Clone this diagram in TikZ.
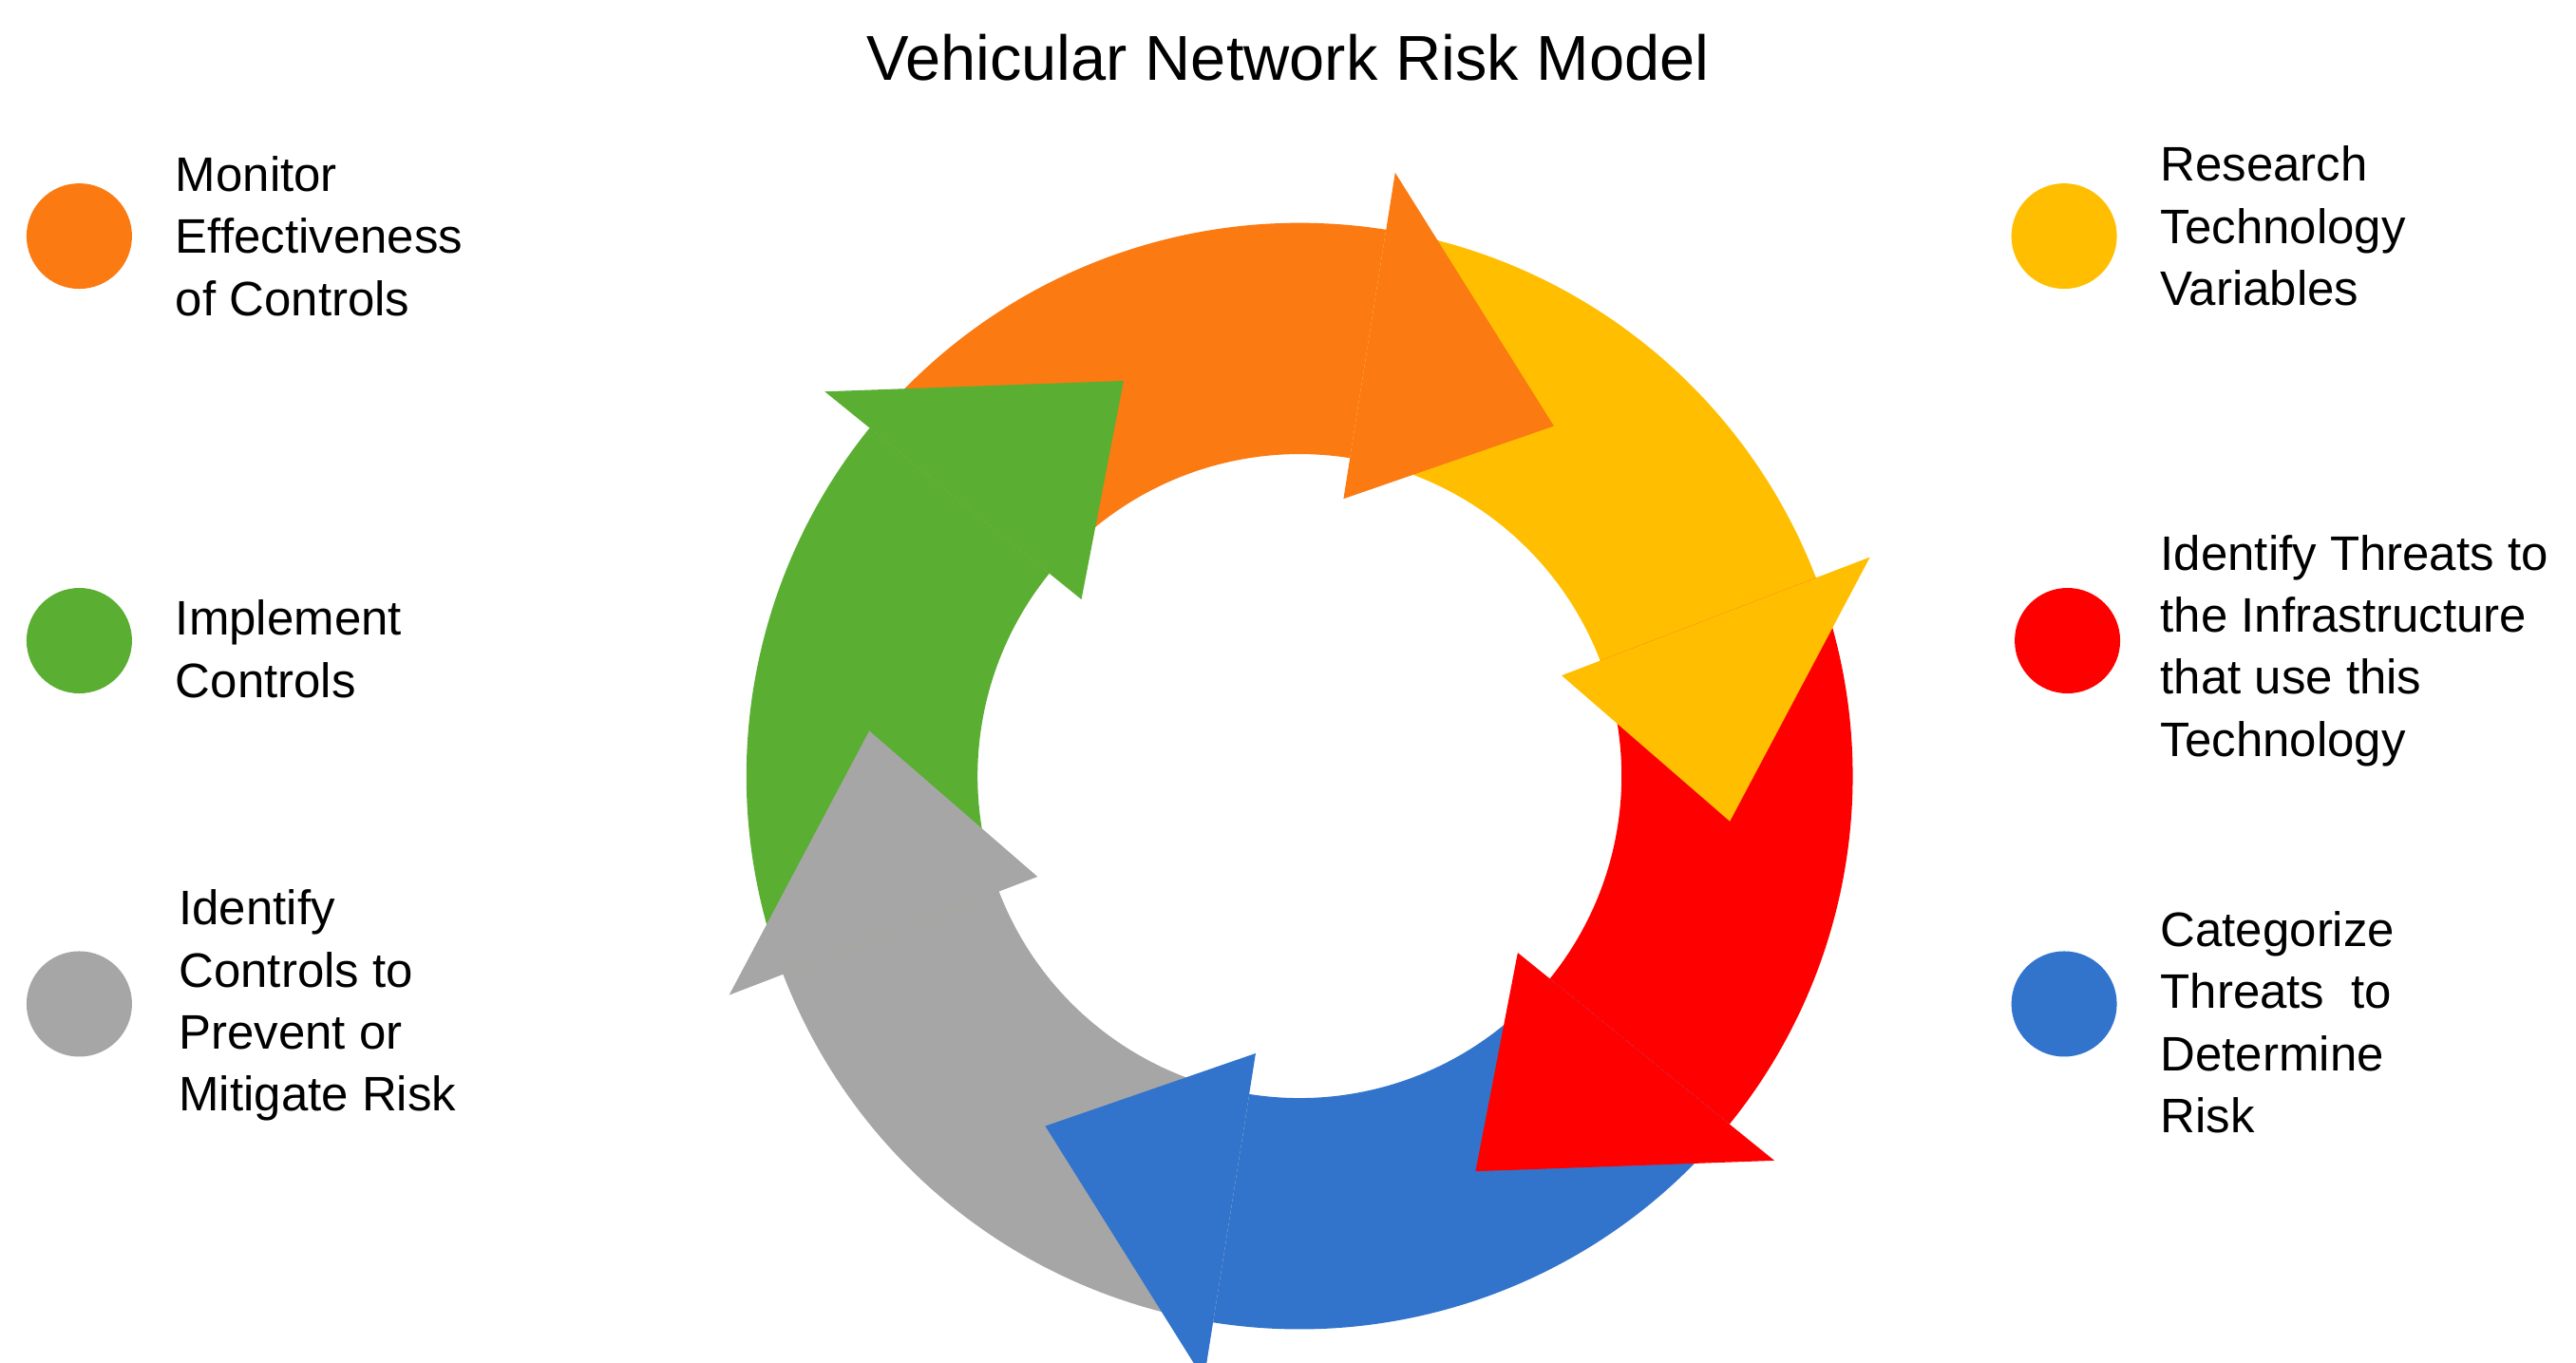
\documentclass[tikz,border=0pt]{standalone}
\usepackage{fontspec}
\setmainfont{Liberation Sans}
\usetikzlibrary{positioning,calc}
\definecolor{cOrange}{HTML}{FB7A12}
\definecolor{cYellow}{HTML}{FFBF00}
\definecolor{cRed}{HTML}{FF0000}
\definecolor{cBlue}{HTML}{3274CC}
\definecolor{cGray}{HTML}{A6A6A6}
\definecolor{cGreen}{HTML}{5AAE32}
\tikzstyle{dot} = [circle, minimum size=1.11cm, inner sep=0pt]
\tikzstyle{legend} = [anchor=west, align=left, inner sep=0pt, font=\fontsize{14.5}{18.6}\selectfont]
\begin{document}
\begin{tikzpicture}[x=0.01738cm, y=0.01738cm]
\useasboundingbox (0,0) rectangle (1560,825);
\coordinate (ctr) at (787,355);
\node (title) at (780,790) {\fontsize{19}{23}\selectfont Vehicular Network Risk Model};
% ring bodies
\foreach \b/\col in {81/cOrange,21/cYellow,-39/cRed,-99/cBlue,-159/cGray,141/cGreen}
  \fill[\col] ([shift={(\b+60:335)}]ctr) arc[start angle=\b+60, end angle=\b, radius=335]
    -- ([shift={(\b:195)}]ctr) arc[start angle=\b, end angle=\b+60, radius=195] -- cycle;
% arrow heads
\foreach \b/\col in {81/cOrange,21/cYellow,-39/cRed,-99/cBlue,-159/cGray,141/cGreen}
  \fill[\col] ([shift={(\b:370)}]ctr) -- ([shift={(\b-27:262)}]ctr) -- ([shift={(\b:170)}]ctr) -- cycle;
% legend
\node (d1) [dot, fill=cOrange] at (48,682) {};
\node (d2) [dot, fill=cGreen] at (48,437) {};
\node (d3) [dot, fill=cGray] at (48,217) {};
\node (d4) [dot, fill=cYellow] at (1250,682) {};
\node (d5) [dot, fill=cRed] at (1252,437) {};
\node (d6) [dot, fill=cBlue] at (1250,217) {};
\node (t1) [legend] at (106,682) {Monitor\\Effectiveness\\of Controls};
\node (t2) [legend] at (106,432) {Implement\\Controls};
\node (t3) [legend] at (108,216) {Identify\\Controls to\\Prevent or\\Mitigate Risk};
\node (t4) [legend] at (1308,688) {Research\\Technology\\Variables};
\node (t5) [legend] at (1308,431) {Identify Threats to\\the Infrastructure\\that use this\\Technology};
\node (t6) [legend] at (1308,206) {Categorize\\Threats\ \ to\\Determine\\Risk};
\end{tikzpicture}
\end{document}
